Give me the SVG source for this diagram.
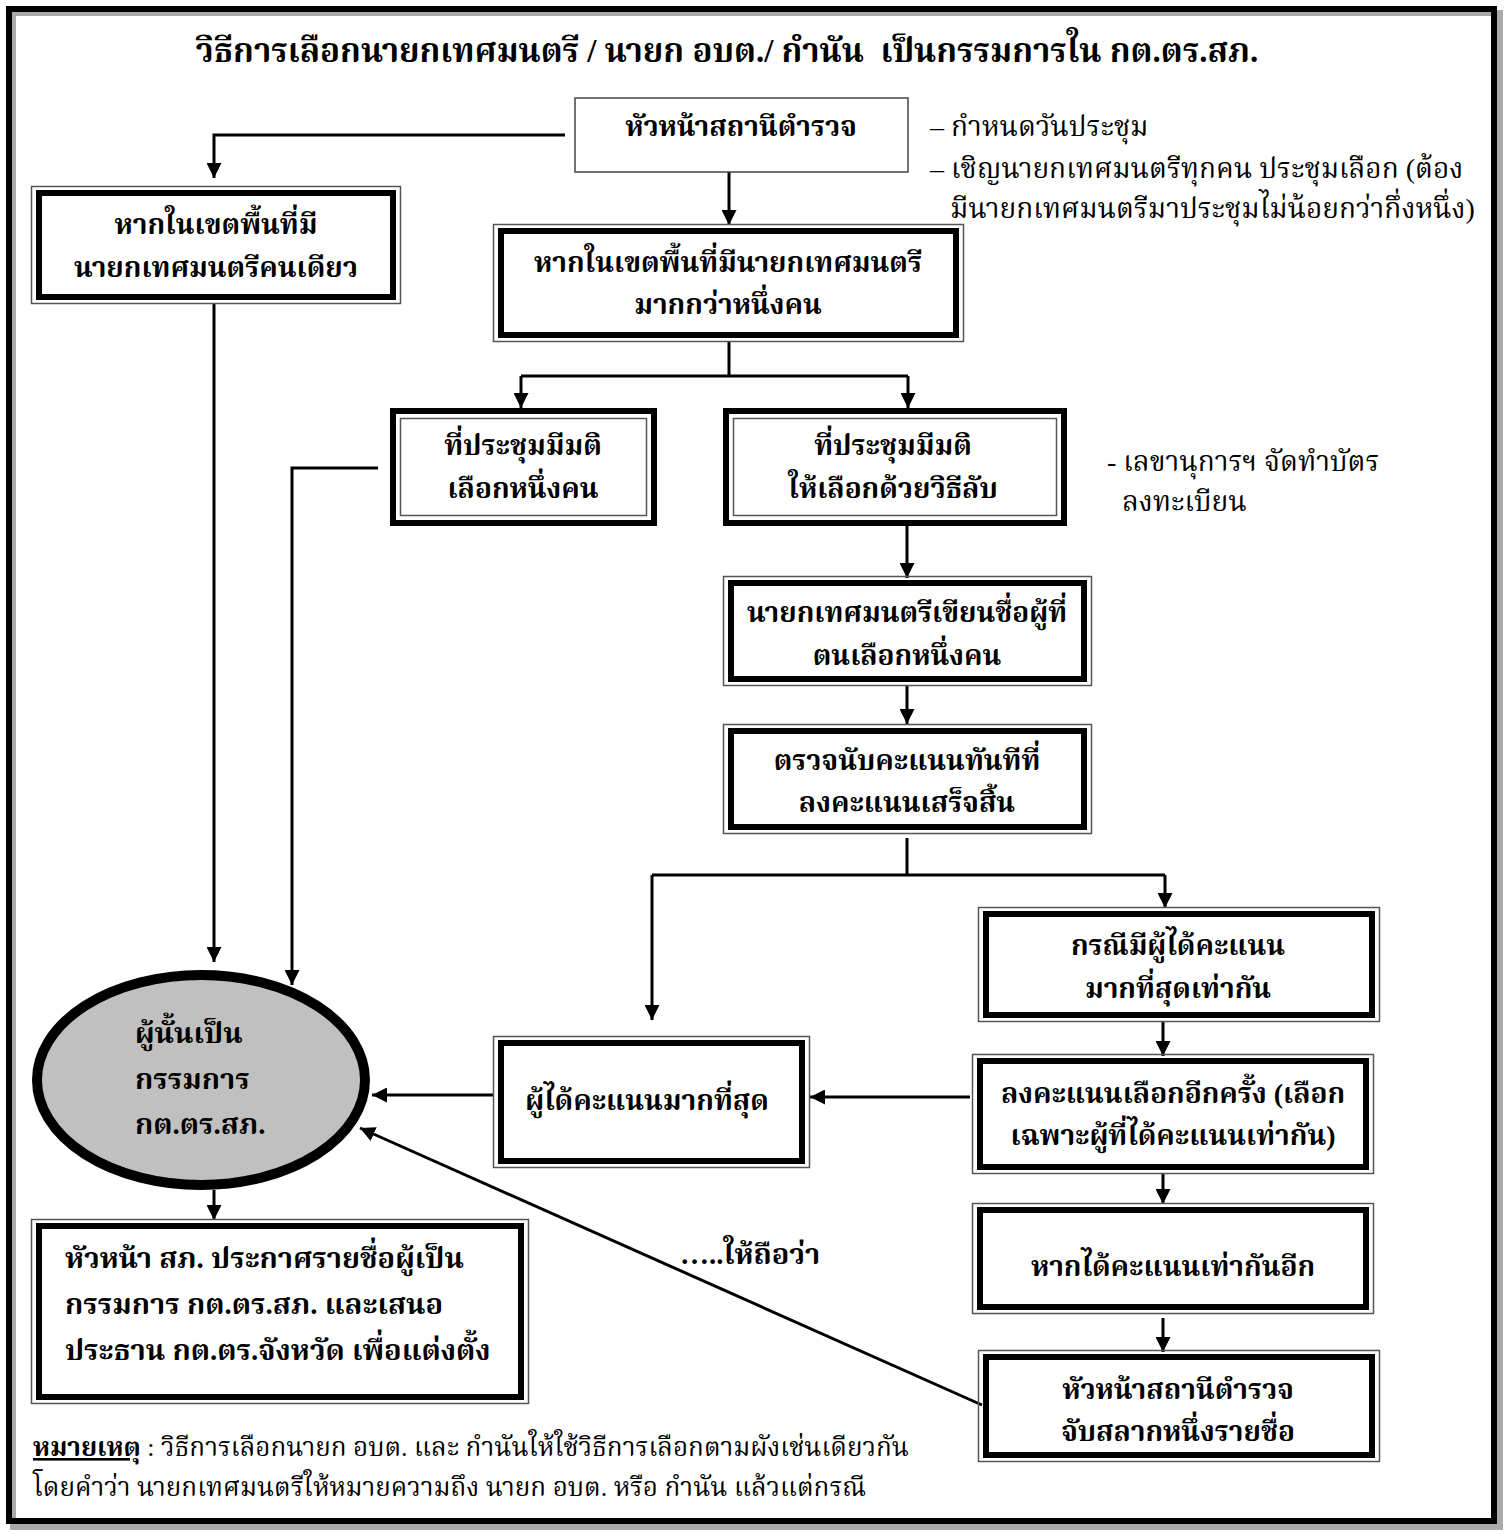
<svg xmlns="http://www.w3.org/2000/svg" width="1507" height="1535" viewBox="0 0 1507 1535">
<defs>
<style>
text{font-family:"Liberation Serif","Noto Serif Thai","Noto Sans Thai","Noto Sans",serif;fill:#000}
.t{font-size:28px;font-weight:bold;text-anchor:middle}
.tl{font-size:29px;font-weight:bold}
.n{font-size:28px}
.f{font-size:26px}
.thin{fill:none;stroke:#555;stroke-width:1.5}
.thick{fill:none;stroke:#000;stroke-width:6}
.ln{fill:none;stroke:#000;stroke-width:3}
</style>
<marker id="ah" viewBox="0 0 10 10" refX="10" refY="5" markerWidth="5" markerHeight="5" markerUnits="strokeWidth" orient="auto">
<path d="M0,0 L10,5 L0,10 z" fill="#000"/>
</marker>
</defs>
<rect width="1507" height="1535" fill="#fff"/>
<rect x="13" y="13" width="1487" height="1514" fill="none" stroke="#aaa" stroke-width="6"/>
<rect x="9" y="9" width="1485" height="1512" fill="none" stroke="#000" stroke-width="6"/>

<text x="727" y="62" class="t" style="font-size:33px;white-space:pre">วิธีการเลือกนายกเทศมนตรี / นายก อบต./ กำนัน  เป็นกรรมการใน กต.ตร.สภ.</text>

<g id="connectors">
<path class="ln" d="M565,135 H214 V178" marker-end="url(#ah)"/>
<path class="ln" d="M729,172 V225" marker-end="url(#ah)"/>
<path class="ln" d="M729,342 V376 M521,376 H908"/>
<path class="ln" d="M521,376 V408" marker-end="url(#ah)"/>
<path class="ln" d="M908,376 V408" marker-end="url(#ah)"/>
<path class="ln" d="M378,468 H292 V985" marker-end="url(#ah)"/>
<path class="ln" d="M214,304 V962" marker-end="url(#ah)"/>
<path class="ln" d="M907,526 V578" marker-end="url(#ah)"/>
<path class="ln" d="M907,686 V724" marker-end="url(#ah)"/>
<path class="ln" d="M907,838 V875 M652,875 H1165"/>
<path class="ln" d="M652,875 V1020" marker-end="url(#ah)"/>
<path class="ln" d="M1165,875 V908" marker-end="url(#ah)"/>
<path class="ln" d="M1163,1022 V1056" marker-end="url(#ah)"/>
<path class="ln" d="M970,1097 H810" marker-end="url(#ah)"/>
<path class="ln" d="M493,1095 H372" marker-end="url(#ah)"/>
<path class="ln" d="M214,1190 V1220" marker-end="url(#ah)"/>
<path class="ln" d="M1163,1174 V1204" marker-end="url(#ah)"/>
<path class="ln" d="M1163,1318 V1352" marker-end="url(#ah)"/>
<path class="ln" d="M982,1405 L360,1128" marker-end="url(#ah)"/>
</g>

<g id="n-head">
<rect x="575" y="98" width="333" height="74" fill="#fff" stroke="#444" stroke-width="1.5"/>
<text x="741" y="136" class="t">หัวหน้าสถานีตำรวจ</text>
</g>
<g id="note-head">
<text x="930" y="136" class="n">– กำหนดวันประชุม</text>
<text x="930" y="178" class="n">– เชิญนายกเทศมนตรีทุกคน ประชุมเลือก (ต้อง</text>
<text x="950" y="218" class="n">มีนายกเทศมนตรีมาประชุมไม่น้อยกว่ากึ่งหนึ่ง)</text>
</g>

<g id="n-one">
<rect x="31.5" y="186.5" width="369" height="117" class="thin"/>
<rect x="39" y="193" width="354" height="104" class="thick"/>
<text x="216" y="234" class="t">หากในเขตพื้นที่มี</text>
<text x="216" y="277" class="t">นายกเทศมนตรีคนเดียว</text>
</g>

<g id="n-many">
<rect x="493.5" y="224.5" width="470" height="117" class="thin"/>
<rect x="501" y="231" width="455" height="104" class="thick"/>
<text x="728" y="272" class="t">หากในเขตพื้นที่มีนายกเทศมนตรี</text>
<text x="728" y="314" class="t">มากกว่าหนึ่งคน</text>
</g>

<g id="n-vote1">
<rect x="393" y="411" width="261" height="112" class="thick"/>
<rect x="400.5" y="418.5" width="246" height="97" class="thin"/>
<text x="523" y="455" class="t">ที่ประชุมมีมติ</text>
<text x="523" y="498" class="t">เลือกหนึ่งคน</text>
</g>

<g id="n-secret">
<rect x="726" y="411" width="338" height="112" class="thick"/>
<rect x="733.5" y="418.5" width="323" height="97" class="thin"/>
<text x="893" y="455" class="t">ที่ประชุมมีมติ</text>
<text x="893" y="498" class="t">ให้เลือกด้วยวิธีลับ</text>
</g>
<g id="note-secret">
<text x="1107" y="471" class="n">- เลขานุการฯ จัดทำบัตร</text>
<text x="1122" y="511" class="n">ลงทะเบียน</text>
</g>

<g id="n-write">
<rect x="723.5" y="576.5" width="368" height="109" class="thin"/>
<rect x="731" y="583" width="353" height="96" class="thick"/>
<text x="907" y="622" class="t">นายกเทศมนตรีเขียนชื่อผู้ที่</text>
<text x="907" y="665" class="t">ตนเลือกหนึ่งคน</text>
</g>

<g id="n-count">
<rect x="723.5" y="724.5" width="368" height="109" class="thin"/>
<rect x="731" y="731" width="353" height="96" class="thick"/>
<text x="907" y="770" class="t">ตรวจนับคะแนนทันทีที่</text>
<text x="907" y="812" class="t">ลงคะแนนเสร็จสิ้น</text>
</g>

<g id="n-tie">
<rect x="978.5" y="907.5" width="401" height="114" class="thin"/>
<rect x="986" y="914" width="386" height="101" class="thick"/>
<text x="1178" y="955" class="t">กรณีมีผู้ได้คะแนน</text>
<text x="1178" y="998" class="t">มากที่สุดเท่ากัน</text>
</g>

<g id="n-revote">
<rect x="972.5" y="1054.5" width="401" height="119" class="thin"/>
<rect x="980" y="1061" width="386" height="106" class="thick"/>
<text x="1173" y="1103" class="t">ลงคะแนนเลือกอีกครั้ง (เลือก</text>
<text x="1173" y="1145" class="t">เฉพาะผู้ที่ได้คะแนนเท่ากัน)</text>
</g>

<g id="n-most">
<rect x="493.5" y="1036.5" width="316" height="131" class="thin"/>
<rect x="501" y="1043" width="301" height="118" class="thick"/>
<text x="647" y="1110" class="t">ผู้ได้คะแนนมากที่สุด</text>
</g>

<g id="n-result">
<ellipse cx="201" cy="1080" rx="164" ry="105" fill="#c0c0c0" stroke="#000" stroke-width="10"/>
<text x="135" y="1043" class="tl">ผู้นั้นเป็น</text>
<text x="135" y="1089" class="tl">กรรมการ</text>
<text x="135" y="1134" class="tl">กต.ตร.สภ.</text>
</g>

<g id="n-announce">
<rect x="31.5" y="1219.5" width="497" height="184" class="thin"/>
<rect x="39" y="1226" width="482" height="171" class="thick"/>
<text x="65" y="1268" class="tl">หัวหน้า สภ. ประกาศรายชื่อผู้เป็น</text>
<text x="65" y="1314" class="tl">กรรมการ กต.ตร.สภ. และเสนอ</text>
<text x="65" y="1360" class="tl">ประธาน กต.ตร.จังหวัด เพื่อแต่งตั้ง</text>
</g>

<g id="n-tieagain">
<rect x="972.5" y="1203.5" width="401" height="110" class="thin"/>
<rect x="980" y="1210" width="386" height="97" class="thick"/>
<text x="1173" y="1276" class="t">หากได้คะแนนเท่ากันอีก</text>
</g>

<g id="n-lot">
<rect x="978.5" y="1350.5" width="401" height="111" class="thin"/>
<rect x="986" y="1357" width="386" height="98" class="thick"/>
<text x="1178" y="1399" class="t">หัวหน้าสถานีตำรวจ</text>
<text x="1178" y="1441" class="t">จับสลากหนึ่งรายชื่อ</text>
</g>

<text x="680" y="1264" class="tl">…..ให้ถือว่า</text>

<g id="footnote">
<text x="33" y="1456" class="f"><tspan style="font-weight:bold;text-decoration:underline">หมายเหตุ</tspan> : วิธีการเลือกนายก อบต. และ กำนันให้ใช้วิธีการเลือกตามผังเช่นเดียวกัน</text>
<text x="33" y="1496" class="f">โดยคำว่า นายกเทศมนตรีให้หมายความถึง นายก อบต. หรือ กำนัน แล้วแต่กรณี</text>
</g>
</svg>
